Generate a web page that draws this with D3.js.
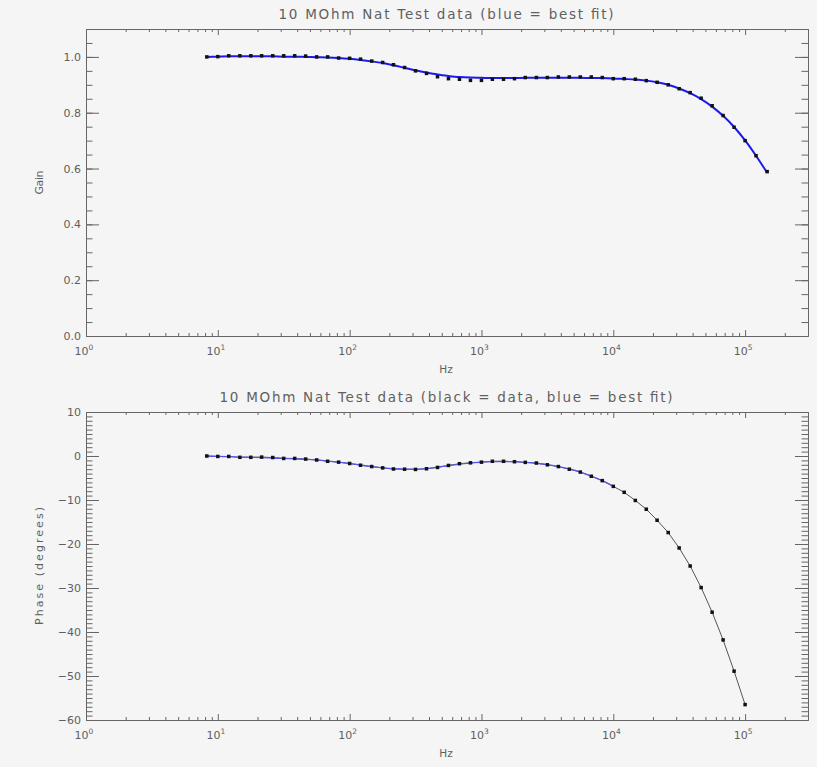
<!DOCTYPE html>
<html><head><meta charset="utf-8">
<script src="https://cdn.jsdelivr.net/npm/d3@7"></script>
<style>
body{margin:0;background:#f5f5f5}
text{font-family:"DejaVu Sans",sans-serif;fill:#5f5f5f}
</style>
</head><body>
<svg id="c" width="817" height="767"></svg>
<script>
// ---------- data ----------
const freqHz = [8.25, 10, 12.1, 14.7, 17.8, 21.5, 26.1, 31.6, 38.3, 46.4, 56.2, 68.1, 82.5,
  100, 121, 147, 178, 215, 261, 316, 383, 464, 562, 681, 825,
  1000, 1210, 1470, 1780, 2150, 2610, 3160, 3830, 4640, 5620, 6810, 8250,
  10000, 12100, 14700, 17800, 21500, 26100, 31600, 38300, 46400, 56200, 68100, 82500,
  100000, 121000, 147000];
const gainData = [1.000, 1.001, 1.004, 1.004, 1.004, 1.004, 1.004, 1.004, 1.004, 1.003, 1.000, 1.000, 0.996,
  0.995, 0.992, 0.985, 0.980, 0.972, 0.962, 0.950, 0.941, 0.929, 0.922, 0.920, 0.916,
  0.916, 0.920, 0.920, 0.922, 0.926, 0.926, 0.926, 0.928, 0.928, 0.928, 0.928, 0.926,
  0.922, 0.922, 0.920, 0.915, 0.909, 0.900, 0.886, 0.872, 0.852, 0.825, 0.790, 0.748,
  0.700, 0.646, 0.589];
const gainFit = [1.000, 1.001, 1.002, 1.002, 1.002, 1.002, 1.002, 1.001, 1.001, 1.000, 0.999, 0.998, 0.996,
  0.993, 0.989, 0.984, 0.978, 0.970, 0.961, 0.952, 0.944, 0.937, 0.932, 0.928, 0.926,
  0.925, 0.924, 0.924, 0.924, 0.925, 0.925, 0.925, 0.925, 0.925, 0.925, 0.924, 0.924,
  0.923, 0.921, 0.919, 0.915, 0.909, 0.900, 0.887, 0.870, 0.849, 0.822, 0.789, 0.749,
  0.701, 0.646, 0.585];
const phaseData = [0.0, -0.1, -0.1, -0.3, -0.3, -0.25, -0.35, -0.55, -0.55, -0.7, -0.9, -1.2, -1.4,
  -1.7, -2.1, -2.4, -2.7, -2.95, -3.0, -3.05, -2.9, -2.6, -2.15, -1.75, -1.55,
  -1.4, -1.2, -1.2, -1.3, -1.45, -1.6, -2.0, -2.4, -3.0, -3.65, -4.6, -5.6,
  -6.9, -8.25, -10.1, -12.1, -14.6, -17.4, -20.9, -25.0, -29.9, -35.5, -41.8, -48.9,
  -56.5];
const phaseFit = [0.0, -0.1, -0.15, -0.25, -0.3, -0.35, -0.45, -0.55, -0.65, -0.75, -0.9, -1.15, -1.4,
  -1.7, -2.05, -2.4, -2.7, -2.9, -3.0, -3.0, -2.85, -2.55, -2.2, -1.85, -1.6,
  -1.4, -1.3, -1.25, -1.3, -1.45, -1.65, -1.95, -2.4, -2.95, -3.65, -4.55, -5.6,
  -6.9];
const xTickExponents = [0, 1, 2, 3, 4, 5];
const gainTicks = [0.0, 0.2, 0.4, 0.6, 0.8, 1.0];
const gainMinorTicks = d3.range(0, 1.1001, 0.05);
const phaseTicks = [10, 0, -10, -20, -30, -40, -50, -60];
const phaseMinorTicks = d3.range(-60, 10.001, 1);
const topTitle = "10 MOhm Nat Test data (blue = best fit)";
const bottomTitle = "10 MOhm Nat Test data (black = data, blue = best fit)";
const xLabel = "Hz";
const gainLabel = "Gain";
const phaseLabel = "Phase (degrees)";

// ---------- layout ----------
const svg = d3.select("#c");
const L = 86, R = 808;
const x = d3.scaleLog().domain([1, 3e5]).range([L, R]);
const xMinor = [];
for (let e = 0; e <= 5; e++) for (let m = 2; m <= 9; m++) { const v = m * Math.pow(10, e); if (v < 3e5) xMinor.push(v); }
const xMajor = xTickExponents.map(e => Math.pow(10, e));
const axisColor = "#666";

function panel(cfg) {
  const y = d3.scaleLinear().domain(cfg.domain).range([cfg.bottom, cfg.top]);
  const g = svg.append("g");
  const H = cfg.bottom - cfg.top;
  const xMajLen = Math.round(H * 0.02), yMajLen = 13;
  function ax(gen, tr) {
    const a = g.append("g").attr("transform", tr).call(gen);
    a.select(".domain").attr("stroke", axisColor);
    a.selectAll("line").attr("stroke", axisColor);
    a.selectAll("text").remove();
    return a;
  }
  ax(d3.axisBottom(x).tickValues(xMajor).tickSize(-xMajLen).tickSizeOuter(0), `translate(0,${cfg.bottom})`);
  ax(d3.axisBottom(x).tickValues(xMinor).tickSize(-xMajLen / 2).tickSizeOuter(0), `translate(0,${cfg.bottom})`);
  ax(d3.axisTop(x).tickValues(xMajor).tickSize(-xMajLen).tickSizeOuter(0), `translate(0,${cfg.top})`);
  ax(d3.axisTop(x).tickValues(xMinor).tickSize(-xMajLen / 2).tickSizeOuter(0), `translate(0,${cfg.top})`);
  ax(d3.axisLeft(y).tickValues(cfg.ticks).tickSize(-yMajLen).tickSizeOuter(0), `translate(${L},0)`);
  ax(d3.axisLeft(y).tickValues(cfg.minor).tickSize(-yMajLen / 2).tickSizeOuter(0), `translate(${L},0)`);
  ax(d3.axisRight(y).tickValues(cfg.ticks).tickSize(-yMajLen).tickSizeOuter(0), `translate(${R},0)`);
  ax(d3.axisRight(y).tickValues(cfg.minor).tickSize(-yMajLen / 2).tickSizeOuter(0), `translate(${R},0)`);

  xTickExponents.forEach(e => {
    const t = g.append("text").attr("x", x(Math.pow(10, e)) - 2).attr("y", cfg.bottom + 19)
      .attr("text-anchor", "middle").attr("font-size", 11);
    t.append("tspan").text("10");
    t.append("tspan").attr("dy", -5).attr("font-size", 7.5).text(e);
  });
  cfg.ticks.forEach(v => {
    g.append("text").attr("x", L - 5).attr("y", y(v) + 4).attr("text-anchor", "end")
      .attr("font-size", 11).text(cfg.fmt(v));
  });
  g.append("text").attr("x", cfg.titleX).attr("y", cfg.top - 10).attr("text-anchor", "middle")
    .attr("font-size", 13.5).attr("textLength", cfg.titleLen).attr("lengthAdjust", "spacing").text(cfg.title);
  g.append("text").attr("x", 446).attr("y", cfg.bottom + 37).attr("text-anchor", "middle")
    .attr("font-size", 10.5).text(xLabel);
  g.append("text").attr("transform", `translate(43,${(cfg.top + cfg.bottom) / 2}) rotate(-90)`)
    .attr("text-anchor", "middle").attr("font-size", 11).attr("textLength", cfg.yLabelLen)
    .attr("lengthAdjust", "spacing").text(cfg.yLabel);

  const pts = cfg.data.map((v, i) => [freqHz[i], v]);
  if (cfg.dataLine) {
    g.append("path").datum(pts).attr("fill", "none").attr("stroke", "#555").attr("stroke-width", 1)
      .attr("d", d3.line().x(d => x(d[0])).y(d => y(d[1])));
  }
  const fitPts = cfg.fit.map((v, i) => [freqHz[i], v]);
  g.append("path").datum(fitPts).attr("fill", "none").attr("stroke", cfg.fitColor)
    .attr("stroke-width", cfg.fitWidth).attr("d", d3.line().curve(d3.curveMonotoneX).x(d => x(d[0])).y(d => y(d[1])));
  g.selectAll("rect.pt").data(pts).join("rect").attr("class", "pt")
    .attr("x", d => x(d[0]) - 1.75).attr("y", d => y(d[1]) - 1.75)
    .attr("width", 3.5).attr("height", 3.5).attr("fill", "#111");
}

panel({ domain: [0, 1.1], top: 29, bottom: 336, ticks: gainTicks, minor: gainMinorTicks,
  fmt: d3.format(".1f"), title: topTitle, titleX: 446, titleLen: 335, yLabel: gainLabel, yLabelLen: 24,
  data: gainData, fit: gainFit, fitColor: "#1a1aee", fitWidth: 2, dataLine: false });
panel({ domain: [-60, 10], top: 412, bottom: 720, ticks: phaseTicks, minor: phaseMinorTicks,
  fmt: v => (v < 0 ? "\u2212" + Math.abs(v) : String(v)), title: bottomTitle, titleX: 446, titleLen: 453,
  yLabel: phaseLabel, yLabelLen: 118,
  data: phaseData, fit: phaseFit, fitColor: "#5555ee", fitWidth: 1.3, dataLine: true });
</script>
</body></html>
